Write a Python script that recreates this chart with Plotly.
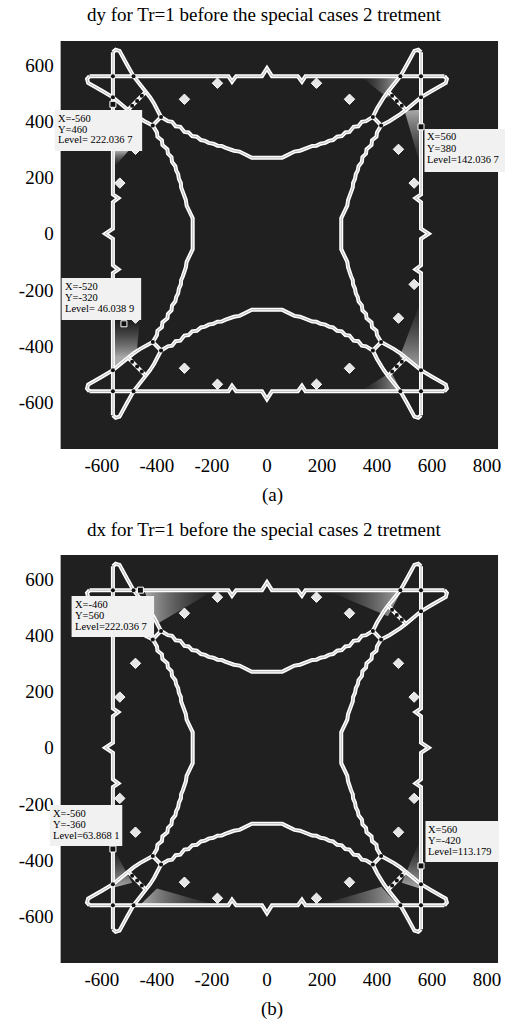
import plotly.graph_objects as go

W, H = 508, 1020

# Upper contour branch, right half: ear at the top-right corner, the diagonal band
# side, then the concave arc down to x = 0 (the left half is its mirror image).
TOP_HALF_X = [560, 550, 536, 526, 508, 485, 470, 455, 440, 425, 410, 400, 385, 360, 345,
              332, 315, 300, 285, 272, 255, 240, 225, 212, 195, 180, 165, 152, 135, 120,
              100, 80, 65, 55, 0]
TOP_HALF_Y = [645, 654, 650, 630, 600, 560, 542, 525, 505, 485, 462, 445, 415, 400, 398,
              382, 380, 362, 360, 347, 345, 333, 330, 323, 320, 313, 312, 306, 300, 295,
              292, 282, 275, 270, 270]

# Square contour edge: position along the edge and distance from the centre
EDGE_S = [-645, -140, -127, -112, -18, 0, 18, 112, 127, 140, 645]
EDGE_D = [560, 560, 540, 560, 560, 588, 560, 560, 540, 560, 560]

# Cross pieces of the diagonal band in the top-right corner (mirrored to the others)
RUNG_X, RUNG_Y = [440, 505], [505, 440]
JOIN_X, JOIN_Y = [385, 415], [415, 385]
SADDLE_X = [560, 485, 560, 455, 472, 490, 385, 415]
SADDLE_Y = [560, 560, 485, 490, 472, 455, 415, 385]

# Extremum markers, one octant
DIAMOND_X = [180, 300, 478, 535]
DIAMOND_Y = [535, 478, 300, 180]

# Data tips
TIP_A_X = [-560, 560, -520]
TIP_A_Y = [460, 380, -320]
TIP_A_TEXT = [["X=-560", "Y=460", "Level= 222.036 7"],
              ["X=560", "Y=380", "Level=142.036 7"],
              ["X=-520", "Y=-320", "Level= 46.038 9"]]
TIP_B_X = [-460, -560, 560]
TIP_B_Y = [560, -360, -420]
TIP_B_TEXT = [["X=-460", "Y=560", "Level=222.036 7"],
              ["X=-560", "Y=-360", "Level=63.868 1"],
              ["X=560", "Y=-420", "Level=113.179"]]

# Shaded wedges near the data tips: vertices, gradient direction, dark end, light end
WEDGES_A = [
    ([338, 476, 440], [560, 560, 482], "horizontal", 338, 476),
    ([500, 560, 560], [437, 441, 235], "vertical", 235, 441),
    ([560, 560, 482], [-237, -485, -438], "vertical", -237, -485),
    ([338, 488, 452], [-560, -560, -491], "horizontal", 338, 488),
    ([-558, -504, -552], [294, 294, 241], "vertical", 241, 294),
    ([-560, -462, -474, -560], [-308, -308, -426, -479], "vertical", -308, -440),
]
WEDGES_B = [
    ([224, 488, 440], [556, 556, 467], "horizontal", 224, 488),
    ([-445, -197, -400], [556, 556, 440], "horizontal", -197, -445),
    ([-556, -556, -490], [-362, -497, -480], "vertical", -362, -497),
    ([-462, -185, -400], [-560, -560, -500], "horizontal", -185, -462),
    ([188, 476, 416], [-560, -560, -494], "horizontal", 188, 476),
    ([556, 556, 490], [-330, -500, -480], "vertical", -330, -500),
]

TITLES = ["dy for Tr=1 before the special cases 2 tretment",
          "dx for Tr=1 before the special cases 2 tretment"]
CAPTIONS = ["(a)", "(b)"]
X_TICKS = [-600, -400, -200, 0, 200, 400, 600, 800]
Y_TICKS = [-600, -400, -200, 0, 200, 400, 600]

BG = "#202020"
CORE = "#b8b8b8"
SERIF = "Liberation Serif, Times New Roman, serif"

# panel layout in pixels: plot area edges and the top of each panel
PLOT_L, PLOT_R = 61, 501
PANEL_TOP = [41, 555]
PANEL_H = 408
BOXES = [[(55, 110, 143, 151), (427, 129, 508, 172), (62, 278, 142, 320)],
         [(72, 596, 155, 637), (50, 805, 123, 846), (428, 821, 502, 862)]]


def px(x):
    return x / W


def py(y):
    return 1 - y / H


fx = [-x for x in TOP_HALF_X] + TOP_HALF_X[-2::-1]
fy = TOP_HALF_Y + TOP_HALF_Y[-2::-1]
BRANCHES = [
    (fx, fy),
    (fx, [-v for v in fy]),
    (fy, fx),
    ([-v for v in fy], fx),
]
EDGES = [
    (EDGE_S, EDGE_D),
    (EDGE_S, [-v for v in EDGE_D]),
    (EDGE_D, EDGE_S),
    ([-v for v in EDGE_D], EDGE_S),
]
SIGNS = [(1, 1), (-1, 1), (1, -1), (-1, -1)]

fig = go.Figure()


def line(xs, ys, xa, ya):
    fig.add_trace(go.Scatter(x=xs, y=ys, mode="lines", xaxis=xa, yaxis=ya,
                             line=dict(color="white", width=4),
                             hoverinfo="skip", showlegend=False))
    fig.add_trace(go.Scatter(x=xs, y=ys, mode="lines", xaxis=xa, yaxis=ya,
                             line=dict(color=CORE, width=1),
                             hoverinfo="skip", showlegend=False))


panels = [("x", "y", WEDGES_A, TIP_A_X, TIP_A_Y, TIP_A_TEXT),
          ("x2", "y2", WEDGES_B, TIP_B_X, TIP_B_Y, TIP_B_TEXT)]

annotations = []
shapes = []

for k, (xa, ya, wedges, tx, ty, ttext) in enumerate(panels):
    for wx, wy, kind, a, b in wedges:
        fig.add_trace(go.Scatter(
            x=wx + [wx[0]], y=wy + [wy[0]], mode="lines", fill="toself",
            line=dict(width=0, color="rgba(0,0,0,0)"),
            fillgradient=dict(type=kind, start=a, stop=b,
                              colorscale=[[0, "rgba(120,120,120,0.0)"],
                                          [1, "rgba(205,205,205,0.8)"]]),
            xaxis=xa, yaxis=ya, hoverinfo="skip", showlegend=False))
    for ex, ey in EDGES:
        line(ex, ey, xa, ya)
    for bx, by in BRANCHES:
        line(bx, by, xa, ya)
    dots_x, dots_y, dia_x, dia_y = [], [], [], []
    for sx, sy in SIGNS:
        line([sx * v for v in RUNG_X], [sy * v for v in RUNG_Y], xa, ya)
        line([sx * v for v in JOIN_X], [sy * v for v in JOIN_Y], xa, ya)
        dots_x += [sx * v for v in SADDLE_X]
        dots_y += [sy * v for v in SADDLE_Y]
        dia_x += [sx * v for v in DIAMOND_X]
        dia_y += [sy * v for v in DIAMOND_Y]
    fig.add_trace(go.Scatter(x=dots_x, y=dots_y, mode="markers", xaxis=xa, yaxis=ya,
                             marker=dict(symbol="circle", size=4, color="#111"),
                             hoverinfo="skip", showlegend=False))
    fig.add_trace(go.Scatter(x=dia_x, y=dia_y, mode="markers", xaxis=xa, yaxis=ya,
                             marker=dict(symbol="diamond", size=8, color="#e6e6e6",
                                         line=dict(color="white", width=1)),
                             hoverinfo="skip", showlegend=False))
    fig.add_trace(go.Scatter(x=tx, y=ty, mode="markers", xaxis=xa, yaxis=ya,
                             marker=dict(symbol="square", size=6, color="#111",
                                         line=dict(color="white", width=1)),
                             hoverinfo="skip", showlegend=False))

    top = PANEL_TOP[k]
    annotations.append(dict(text=TITLES[k], x=px(266), y=py(top - 26), xref="paper",
                            yref="paper", showarrow=False, xanchor="center",
                            yanchor="middle", font=dict(family=SERIF, size=19, color="black")))
    annotations.append(dict(text=CAPTIONS[k], x=px(274), y=py(top + 454), xref="paper",
                            yref="paper", showarrow=False, xanchor="center",
                            yanchor="middle", font=dict(family=SERIF, size=19, color="black")))
    for (l, t, r, b), lines in zip(BOXES[k], ttext):
        shapes.append(dict(type="rect", xref="paper", yref="paper", x0=px(l), x1=px(r),
                           y0=py(b), y1=py(t), fillcolor="#f1f1f1",
                           line=dict(width=0), layer="above"))
        for i, s in enumerate(lines):
            annotations.append(dict(text=s, x=px(l + 1), y=py(t + 8 + 11 * i),
                                    xref="paper", yref="paper", showarrow=False,
                                    xanchor="left", yanchor="middle",
                                    font=dict(family=SERIF, size=10.5, color="black")))

axis_common = dict(showgrid=False, zeroline=False, showline=False, ticks="",
                   tickfont=dict(family=SERIF, size=19, color="black"))
layout_axes = {}
for k in range(2):
    top = PANEL_TOP[k]
    sfx = "" if k == 0 else "2"
    layout_axes["xaxis" + sfx] = dict(
        axis_common, domain=[px(PLOT_L), px(PLOT_R)], range=[-750, 840],
        tickvals=X_TICKS, ticktext=[str(v) for v in X_TICKS],
        ticklabelstandoff=3, anchor="y" + sfx)
    layout_axes["yaxis" + sfx] = dict(
        axis_common, domain=[py(top + PANEL_H), py(top)], range=[-765, 685],
        tickvals=Y_TICKS, ticktext=[str(v) for v in Y_TICKS],
        ticklabelstandoff=6, anchor="x" + sfx)

fig.update_layout(
    width=W, height=H,
    margin=dict(l=0, r=0, t=0, b=0),
    paper_bgcolor="white", plot_bgcolor=BG,
    showlegend=False,
    annotations=annotations, shapes=shapes,
    **layout_axes,
)

fig.write_html("out.html")
